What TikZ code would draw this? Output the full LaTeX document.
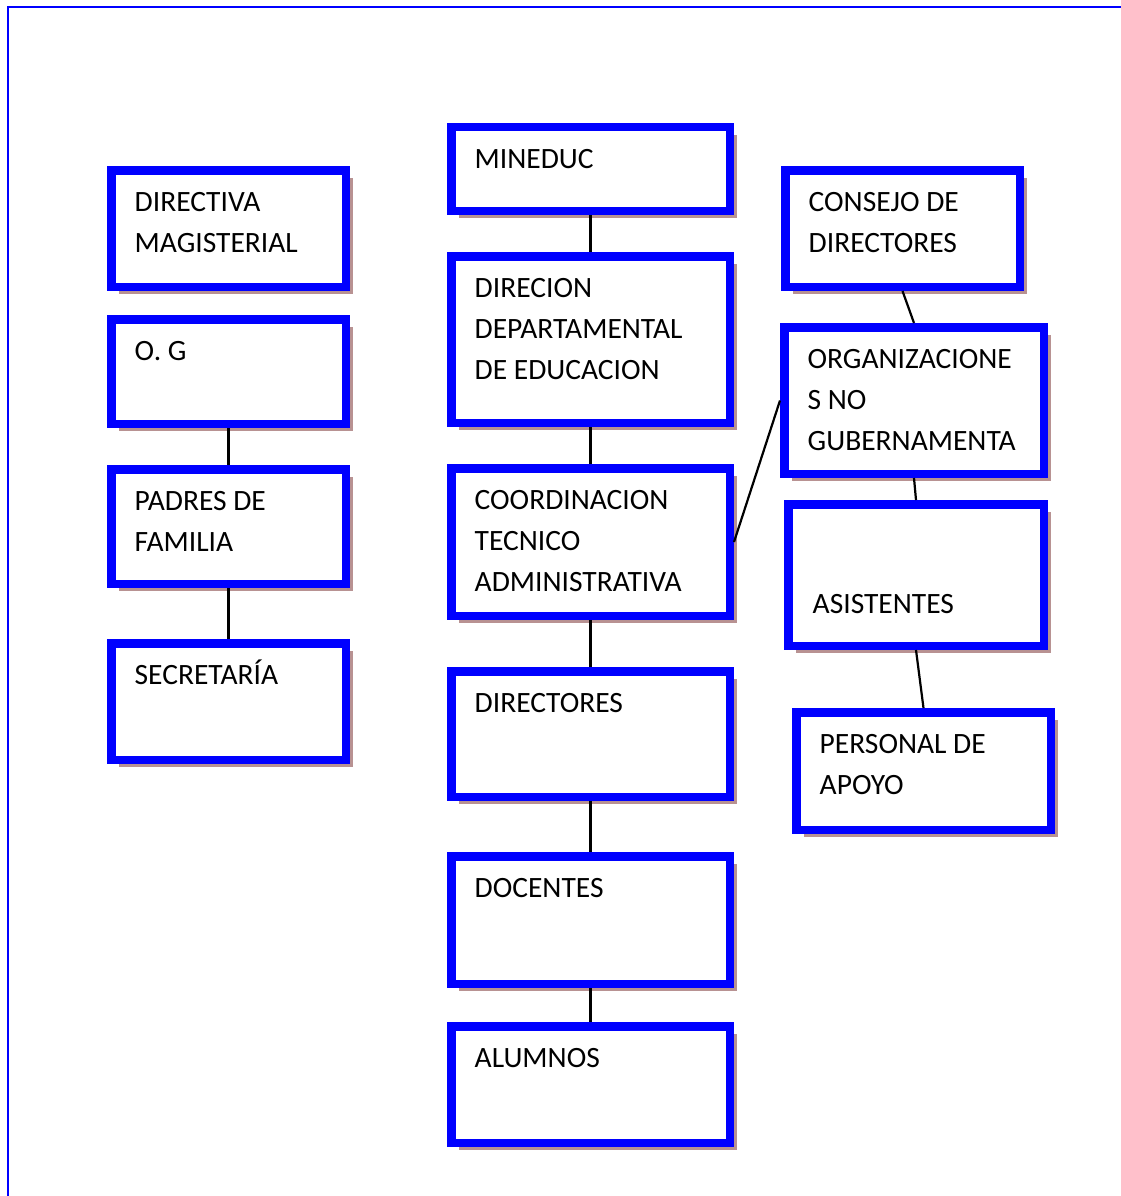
\documentclass[tikz,border=0pt]{standalone}
\usepackage{fontspec}
\setmainfont{Carlito}
\usetikzlibrary{calc,shadows}
\definecolor{boxblue}{RGB}{0,0,255}
\definecolor{shadowc}{RGB}{184,146,146}
\begin{document}
\begin{tikzpicture}[x=1pt,y=-1pt,
  orgbox/.style={draw=boxblue, line width=8.5pt, fill=white, rectangle, inner sep=0pt,
    drop shadow={shadow xshift=7.5pt, shadow yshift=-7.5pt, fill=shadowc, opacity=1}},
  txt/.style={anchor=base west, inner sep=0pt, font=\fontsize{29.5}{41}\selectfont},
  conn/.style={draw=black, line width=2.2pt}]
\useasboundingbox (0,0) rectangle (1121,1196);
\fill[white] (0,0) rectangle (1121,1196);
\draw[boxblue, line width=2.5pt] (8,1200) -- (8,7) -- (1125,7);

% box macro: name, x1, y1, x2, y2 (outer edges)
\newcommand{\orgbx}[5]{%
  \node[orgbox, minimum width={#4-#2-8.5}, minimum height={#5-#3-8.5}] (#1) at ({(#2+#4)/2},{(#3+#5)/2}) {};}
\newcommand{\orgtx}[4]{% name, x1, y1 (outer), list
  \foreach \t [count=\i] in {#4} \node[txt] (#1-t\i) at ({#2+27.5},{#3+45.5+41*(\i-1)}) {\t};}

% left column
\orgbx{dm}{107}{166}{350}{291}
\orgbx{og}{107}{315}{350}{428}
\orgbx{pf}{107}{465}{350}{588}
\orgbx{sec}{107}{639}{350}{764}
% middle column
\orgbx{min}{447}{123}{734}{215}
\orgbx{dde}{447}{252}{734}{427}
\orgbx{cta}{447}{464}{734}{620}
\orgbx{dir}{447}{667}{734}{801}
\orgbx{doc}{447}{852}{734}{988}
\orgbx{alu}{447}{1022}{734}{1147}
% right column
\orgbx{cdd}{781}{166}{1024}{291}
\orgbx{ong}{780}{323}{1048}{478}
\orgbx{asi}{784}{500}{1048}{650}
\orgbx{pda}{792}{708}{1055}{834}

% connectors
\draw[conn] (og.south) -- (pf.north);
\draw[conn] (pf.south) -- (sec.north);
\draw[conn] (min.south) -- (dde.north);
\draw[conn] (dde.south) -- (cta.north);
\draw[conn] (cta.south) -- (dir.north);
\draw[conn] (dir.south) -- (doc.north);
\draw[conn] (doc.south) -- (alu.north);
\draw[conn] (cdd.south) -- (ong.north);
\draw[conn] (ong.south) -- (asi.north);
\draw[conn] (asi.south) -- (pda.north);
\draw[conn] (cta.east) -- (ong.west);

% texts
\orgtx{dm}{107}{166}{DIRECTIVA,MAGISTERIAL}
\orgtx{og}{107}{315}{O. G}
\orgtx{pf}{107}{465}{PADRES DE,FAMILIA}
\orgtx{sec}{107}{639}{SECRETARÍA}
\orgtx{min}{447}{123}{MINEDUC}
\orgtx{dde}{447}{252}{DIRECION,DEPARTAMENTAL,DE EDUCACION}
\orgtx{cta}{447}{464}{COORDINACION,TECNICO,ADMINISTRATIVA}
\orgtx{dir}{447}{667}{DIRECTORES}
\orgtx{doc}{447}{852}{DOCENTES}
\orgtx{alu}{447}{1022}{ALUMNOS}
\orgtx{cdd}{781}{166}{CONSEJO DE,DIRECTORES}
\orgtx{ong}{780}{323}{ORGANIZACIONE,S NO,GUBERNAMENTA}
\orgtx{asi}{785}{568}{ASISTENTES}
\orgtx{pda}{792}{708}{PERSONAL DE,APOYO}
\end{tikzpicture}
\end{document}
